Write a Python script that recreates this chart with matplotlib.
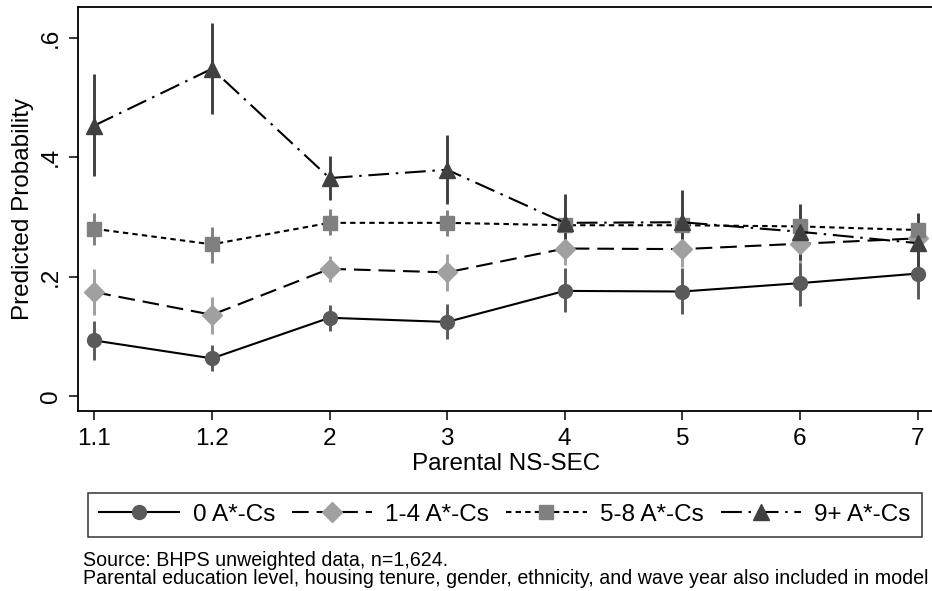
import matplotlib
matplotlib.use('agg')
import matplotlib.pyplot as plt
import numpy as np

plt.rcParams['font.family'] = ['Liberation Sans', 'DejaVu Sans']

# x categories (Parental NS-SEC)
cats = ['1.1', '1.2', '2', '3', '4', '5', '6', '7']

# predicted probabilities with confidence limits, per group
p0 = [0.093, 0.063, 0.131, 0.124, 0.176, 0.175, 0.189, 0.205]
lo0 = [0.060, 0.042, 0.109, 0.095, 0.141, 0.138, 0.151, 0.162]
hi0 = [0.125, 0.085, 0.153, 0.154, 0.214, 0.214, 0.226, 0.242]

p1 = [0.174, 0.136, 0.213, 0.207, 0.247, 0.246, 0.255, 0.264]
lo1 = [0.136, 0.103, 0.191, 0.176, 0.219, 0.216, 0.222, 0.228]
hi1 = [0.213, 0.166, 0.234, 0.238, 0.276, 0.277, 0.288, 0.300]

p2 = [0.280, 0.254, 0.290, 0.290, 0.286, 0.286, 0.284, 0.278]
lo2 = [0.253, 0.222, 0.269, 0.268, 0.265, 0.263, 0.260, 0.252]
hi2 = [0.307, 0.283, 0.313, 0.312, 0.308, 0.309, 0.308, 0.305]

p3 = [0.453, 0.548, 0.365, 0.379, 0.290, 0.291, 0.275, 0.256]
lo3 = [0.368, 0.473, 0.329, 0.322, 0.242, 0.238, 0.228, 0.205]
hi3 = [0.539, 0.625, 0.402, 0.437, 0.338, 0.345, 0.322, 0.306]

labels = ['0 A*-Cs', '1-4 A*-Cs', '5-8 A*-Cs', '9+ A*-Cs']

series = [(p0, lo0, hi0), (p1, lo1, hi1), (p2, lo2, hi2), (p3, lo3, hi3)]
styles = [
    dict(marker='o', ms=10, color='#5a5a5a', ls='-'),
    dict(marker='D', ms=10, color='#a0a0a0', ls=(0, (8, 3.8))),
    dict(marker='s', ms=10, color='#808080', ls=(0, (2.6, 2.0))),
    dict(marker='^', ms=11.5, color='#404040', ls=(0, (10, 3.2, 1.2, 3.2))),
]

FS = 17.5

fig = plt.figure(figsize=(9.32, 5.91), dpi=100)
ax = fig.add_axes([78 / 932, 1 - 410.5 / 591, (934 - 78) / 932, (410.5 - 7.3) / 591])

x = np.arange(len(cats))
handles = []
for (p, lo, hi), st in zip(series, styles):
    ax.vlines(x, lo, hi, color=st['color'], lw=2.1, zorder=2)
for (p, lo, hi), st, lab in zip(series, styles, labels):
    h, = ax.plot(x, p, color='black', lw=1.5, ls=st['ls'], marker=st['marker'],
                 ms=st['ms'], mfc=st['color'], mec=st['color'], zorder=3, label=lab)
    handles.append(h)

ax.set_xlim(-0.139, 7.14)
ax.set_ylim(-0.0243, 0.651)
ax.set_xticks(x)
ax.set_xticklabels(cats)
ax.set_yticks([0, 0.2, 0.4, 0.6])
ax.set_yticklabels(['0', '.2', '.4', '.6'], rotation=90, va='center')
ax.tick_params(axis='both', direction='out', length=6.5, width=1.1, labelsize=FS, colors='black')
ax.tick_params(axis='y', pad=5)
ax.tick_params(axis='x', pad=6)
for s in ax.spines.values():
    s.set_linewidth(1.3)

ax.set_xlabel('Parental NS-SEC', fontsize=FS, labelpad=2)
ax.set_ylabel('Predicted Probability', fontsize=FS, labelpad=4)

leg = fig.legend(handles, labels, loc='upper left', ncol=4,
                 bbox_to_anchor=(88 / 932, 1 - 493 / 591),
                 fontsize=FS, numpoints=1, handlelength=3.3, handletextpad=0.55,
                 columnspacing=0.7, fancybox=False, edgecolor='black',
                 borderpad=0.45, borderaxespad=0)
leg.get_frame().set_linewidth(1.1)

fig.text(83 / 932, 1 - 560 / 591, 'Source: BHPS unweighted data, n=1,624.',
         fontsize=14.1, va='center', ha='left')
fig.text(83 / 932, 1 - 578.5 / 591,
         'Parental education level, housing tenure, gender, ethnicity, and wave year also included in model',
         fontsize=14.1, va='center', ha='left')

fig.savefig('out.png', dpi=100)
